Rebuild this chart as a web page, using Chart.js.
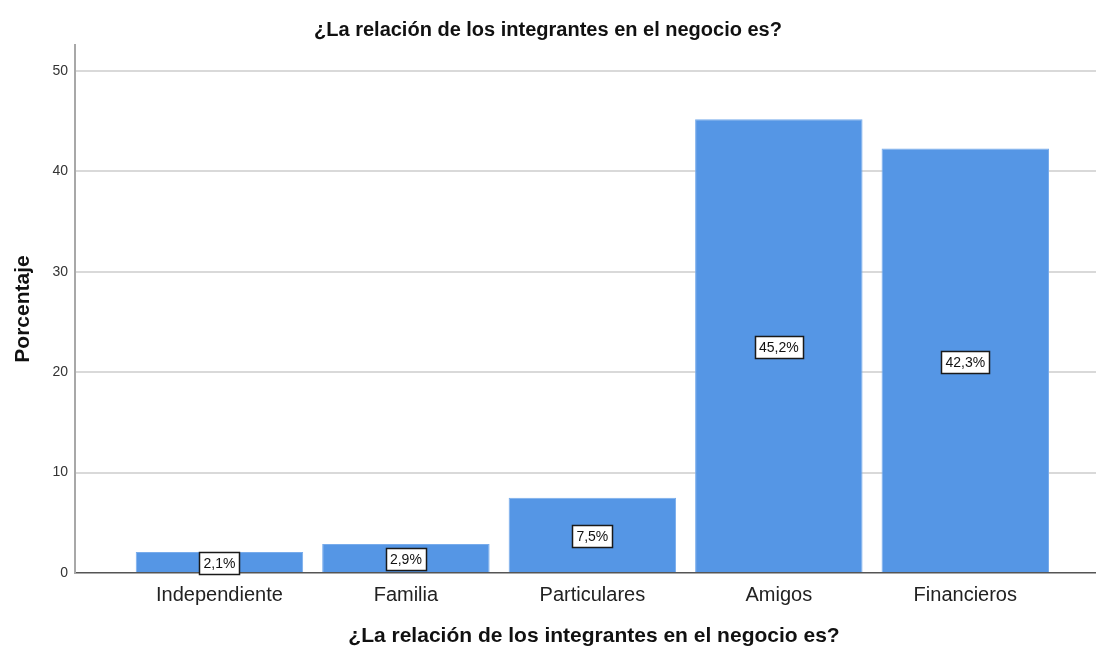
<!DOCTYPE html>
<html>
<head>
<meta charset="utf-8">
<script src="https://cdn.jsdelivr.net/npm/chart.js@4/dist/chart.umd.min.js"></script>
<style>
  html, body { margin: 0; padding: 0; background: #ffffff; }
  #wrap { width: 1096px; height: 648px; }
</style>
</head>
<body>
<div id="wrap"><canvas id="c" width="1096" height="648"></canvas></div>
<script>
const chartTitle = '¿La relación de los integrantes en el negocio es?';
const xAxisTitle = '¿La relación de los integrantes en el negocio es?';
const yAxisTitle = 'Porcentaje';
const categories = ['Independiente', 'Familia', 'Particulares', 'Amigos', 'Financieros'];
const percentages = [2.1, 2.9, 7.5, 45.2, 42.3];
const yTicks = [0, 10, 20, 30, 40, 50];

const FONT = "'Liberation Sans', Arial, Helvetica, sans-serif";

const barLabels = {
  id: 'barLabels',
  afterDatasetsDraw(chart) {
    const ctx = chart.ctx;
    const yScale = chart.scales.y;
    const meta = chart.getDatasetMeta(0);
    ctx.save();
    ctx.font = '14px ' + FONT;
    ctx.textAlign = 'center';
    ctx.textBaseline = 'middle';
    meta.data.forEach((bar, i) => {
      const v = percentages[i];
      const txt = v.toFixed(1).replace('.', ',') + '%';
      const cx = bar.x;
      const cy = yScale.getPixelForValue(v / 2) + 1;
      const w = Math.round(ctx.measureText(txt).width + 8);
      const h = 22;
      const x0 = Math.round(cx - w / 2) + 0.5;
      const y0 = Math.round(cy - h / 2) + 0.5;
      ctx.fillStyle = '#ffffff';
      ctx.fillRect(x0, y0, w, h);
      ctx.strokeStyle = '#1a1a1a';
      ctx.lineWidth = 1.5;
      ctx.strokeRect(x0, y0, w, h);
      ctx.fillStyle = '#111111';
      ctx.fillText(txt, cx, cy + 1);
    });
    ctx.restore();
  }
};

const xTitlePlugin = {
  id: 'xTitlePlugin',
  afterDraw(chart) {
    const ctx = chart.ctx;
    ctx.save();
    ctx.font = 'bold 21px ' + FONT;
    ctx.fillStyle = '#111111';
    ctx.textAlign = 'center';
    ctx.textBaseline = 'middle';
    ctx.fillText(xAxisTitle, 594, 636);
    ctx.restore();
  }
};

new Chart(document.getElementById('c'), {
  type: 'bar',
  data: {
    datasets: [{
      data: percentages.map((v, i) => ({ x: i, y: v })),
      backgroundColor: '#5596e5',
      borderColor: '#78acec',
      borderWidth: 1,
      categoryPercentage: 1.0,
      barPercentage: 0.898
    }]
  },
  options: {
    responsive: false,
    animation: false,
    layout: { padding: { left: 0, right: 0, top: 0, bottom: 0 } },
    plugins: {
      legend: { display: false },
      tooltip: { enabled: false },
      title: {
        display: true,
        text: chartTitle,
        color: '#111111',
        font: { family: FONT, size: 20, weight: 'bold', lineHeight: 1.2 },
        padding: { top: 18, bottom: 3 }
      }
    },
    scales: {
      x: {
        type: 'linear',
        offset: false,
        min: -0.7746,
        max: 4.701,
        afterBuildTicks(scale) {
          scale.ticks = categories.map((c, i) => ({ value: i }));
        },
        afterFit(scale) { scale.height = 75; },
        ticks: {
          autoSkip: false,
          maxRotation: 0,
          padding: 10,
          color: '#222222',
          font: { family: FONT, size: 20 },
          callback: (v) => categories[v]
        },
        grid: { display: false, drawTicks: false },
        border: { display: true, color: '#555555', width: 1.5 }
      },
      y: {
        type: 'linear',
        min: 0,
        max: 52.6,
        afterBuildTicks(scale) {
          scale.ticks = yTicks.map(v => ({ value: v }));
        },
        afterFit(scale) { scale.width = 75; },
        ticks: {
          padding: 7,
          color: '#333333',
          font: { family: FONT, size: 14 }
        },
        grid: {
          drawTicks: false,
          color: (c) => (c.tick && c.tick.value === 0) ? 'rgba(0,0,0,0)' : '#d9d9d9',
          lineWidth: 2
        },
        border: { display: true, color: '#a8a8a8', width: 2 },
        title: {
          display: true,
          text: yAxisTitle,
          color: '#111111',
          font: { family: FONT, size: 21, weight: 'bold', lineHeight: 1.2 },
          padding: { top: 11, bottom: 0 }
        }
      }
    }
  },
  plugins: [barLabels, xTitlePlugin]
});
</script>
</body>
</html>
